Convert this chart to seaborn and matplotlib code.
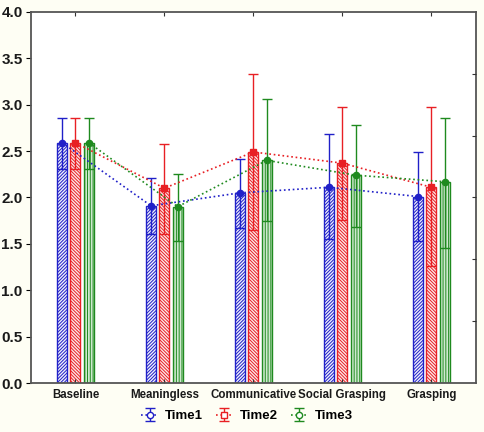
import numpy as np
import pandas as pd
import matplotlib
matplotlib.use("Agg")
import matplotlib.pyplot as plt
from matplotlib.lines import Line2D
from matplotlib.legend_handler import HandlerErrorbar
from matplotlib.container import ErrorbarContainer
import seaborn as sns

# data
conditions = ["Baseline", "Meaningless", "Communicative", "Social Grasping", "Grasping"]
times = ["Time1", "Time2", "Time3"]
time1_mean = [2.59, 1.91, 2.05, 2.11, 2.01]
time2_mean = [2.59, 2.10, 2.49, 2.37, 2.11]
time3_mean = [2.59, 1.90, 2.40, 2.24, 2.17]
time1_low = [2.31, 1.61, 1.67, 1.55, 1.53]
time1_high = [2.86, 2.21, 2.42, 2.68, 2.49]
time2_low = [2.31, 1.61, 1.65, 1.76, 1.26]
time2_high = [2.86, 2.58, 3.33, 2.97, 2.97]
time3_low = [2.31, 1.53, 1.75, 1.68, 1.46]
time3_high = [2.86, 2.25, 3.06, 2.78, 2.86]

means = [time1_mean, time2_mean, time3_mean]
lows = [time1_low, time2_low, time3_low]
highs = [time1_high, time2_high, time3_high]

colors = ["#2020c8", "#e82024", "#1f8a1f"]
faces = ["#eeeefb", "#fce8e8", "#cfe9cf"]
hatches = ["//////////", "\\\\\\\\\\\\\\\\\\\\", "||||||"]
markers = ["o", "s", "o"]

rows = []
for t, m in zip(times, means):
    for c, v in zip(conditions, m):
        rows.append({"cond": c, "time": t, "mean": v})
df = pd.DataFrame(rows)

plt.rcParams["font.family"] = ["Liberation Sans", "DejaVu Sans"]
plt.rcParams["hatch.linewidth"] = 0.7

fig = plt.figure(figsize=(4.84, 4.32), dpi=100, facecolor="#fefef4")
ax = fig.add_axes([0.064, 0.1134, 0.919, 0.859])
ax.set_facecolor("white")

sns.barplot(data=df, x="cond", y="mean", hue="time", hue_order=times,
            palette=colors, width=0.45, gap=0.25, errorbar=None,
            legend=False, ax=ax)

bar_groups = list(ax.containers)
handles = []
for i, cont in enumerate(bar_groups):
    xs = []
    for p in cont.patches:
        p.set_facecolor(faces[i])
        p.set_edgecolor(colors[i])
        p.set_hatch(hatches[i])
        p.set_linewidth(1.0)
        xs.append(p.get_x() + p.get_width() / 2)
    m = np.array(means[i])
    yerr = [m - np.array(lows[i]), np.array(highs[i]) - m]
    h = ax.errorbar(xs, m, yerr=yerr, fmt=":", marker=markers[i],
                    color=colors[i], ms=4.5, lw=1.2, elinewidth=1.0,
                    capsize=3.6, capthick=1.0, zorder=5, label=times[i])
    handles.append(h)

ax.set_ylim(0, 4)
ax.set_xlim(-0.5, 4.5)
ax.set_yticks(np.arange(0, 4.01, 0.5))
ax.set_yticklabels([f"{v:.1f}" for v in np.arange(0, 4.01, 0.5)],
                   fontsize=11, fontweight="bold", color="#1a1a1a")
ax.set_xticks(range(len(conditions)))
ax.set_xticklabels(conditions, fontsize=8.3, fontweight="bold", color="#1a1a1a")
ax.set_xlabel("")
ax.set_ylabel("")
ax.tick_params(axis="x", top=True, bottom=True, direction="in", length=3,
               pad=4, color="#333333")
ax.tick_params(axis="y", left=False, pad=2.5)
for s in ax.spines.values():
    s.set_color("#555555")
    s.set_linewidth(1.3)

ax2 = ax.twinx()
ax2.set_ylim(0, 6)
ax2.set_yticks([1, 2, 3, 4, 5])
ax2.tick_params(axis="y", direction="in", length=3, labelright=False,
                color="#333333")
for s in ax2.spines.values():
    s.set_visible(False)


def hollow(lh, oh):
    lh.update_from(oh)
    if isinstance(lh, Line2D) and lh.get_marker() in ("o", "s"):
        lh.set_markerfacecolor("white")


leg = fig.legend(handles=handles, labels=times, loc="center",
                 bbox_to_anchor=(0.51, 0.037), ncol=3, frameon=False,
                 prop={"weight": "bold", "size": 9.5}, handlelength=1.3,
                 columnspacing=1.0, handletextpad=0.5,
                 handler_map={ErrorbarContainer: HandlerErrorbar(update_func=hollow)})

fig.savefig("out.png", dpi=100, facecolor=fig.get_facecolor())
